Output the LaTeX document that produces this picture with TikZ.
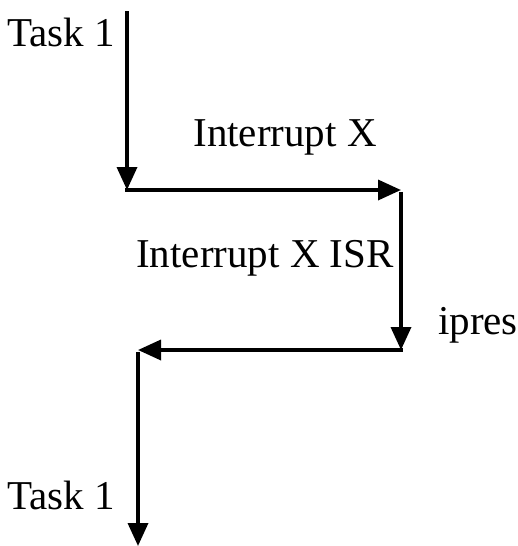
\documentclass[tikz,border=0pt]{standalone}
\usepackage{fontspec}
\setmainfont{Liberation Serif}
\usetikzlibrary{arrows.meta}

\tikzset{
  flow/.style={line width=3.5pt, -{Triangle[length=23pt, width=20pt]}},
  lbl/.style={font=\fontsize{41}{43}\selectfont, inner sep=0pt}
}

\begin{document}
\begin{tikzpicture}[x=1pt, y=-1pt]
    \useasboundingbox (0,0) rectangle (517,546);
    \coordinate (top)  at (127,11);
    \coordinate (c1)   at (127,190);
    \coordinate (c2)   at (401,190);
    \coordinate (c3)   at (401,350);
    \coordinate (c4)   at (138,350);
    \coordinate (end)  at (138,546);
    \node[lbl] (task)   at (61,32)  {Task 1};
    \node[lbl] (intx)   at (285,137) {Interrupt X};
    \node[lbl] (isr)    at (265,258) {Interrupt X ISR};
    \node[lbl] (ipres)  at (478,325) {ipres};
    \node[lbl] (taskb)  at (61,495) {Task 1};
    \draw[flow] (top) -- (c1);
    \draw[flow] ([xshift=-1.75pt]c1) -- (c2);
    \draw[flow] ([yshift=-1.75pt]c2) -- (c3);
    \draw[flow] ([xshift=1.75pt]c3) -- (c4);
    \draw[flow] ([yshift=-1.75pt]c4) -- (end);
\end{tikzpicture}
\end{document}
